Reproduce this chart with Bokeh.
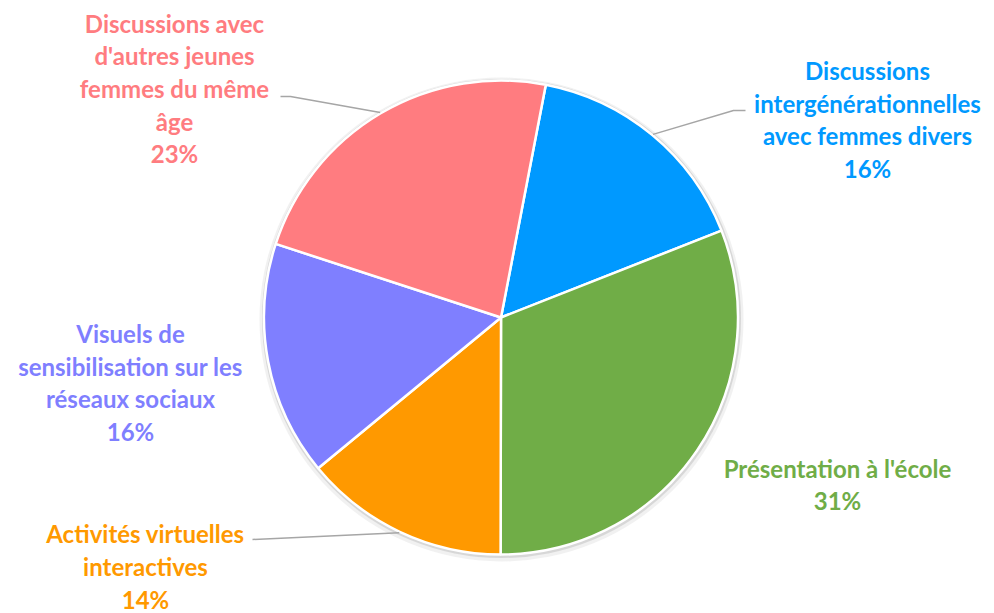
import math
from bokeh.plotting import figure
from bokeh.models import Range1d, ColumnDataSource
from bokeh.core.properties import value
from bokeh.embed import file_html
from bokeh.resources import INLINE

# ---- data ----
label_lines = [
    ["Discussions", "intergénérationnelles", "avec femmes divers"],
    ["Présentation à l'école"],
    ["Activités virtuelles", "interactives"],
    ["Visuels de", "sensibilisation sur les", "réseaux sociaux"],
    ["Discussions avec", "d'autres jeunes", "femmes du même", "âge"],
]
shares = [16, 31, 14, 16, 23]
colors = ["#0099FF", "#70AD47", "#FF9900", "#7F7FFF", "#FF7C80"]

# ---- layout (screen pixel coordinates, y downward) ----
W, H = 994, 613
CX, CY, R = 500.5, 317.0, 237.0
START_DEG = 10.9  # clockwise from 12 o'clock
label_pos = [(867, 119), (837, 484), (145, 566), (130, 382), (174, 88)]
leader_elbows = {0: [(733, 110), (745, 110)], 2: [(252, 539)], 4: [(290, 96), (280, 96)]}

FONT = "Lato"
FS = 24
LINE_H = 32.5 / (1.2 * FS)

def to_data(x, y):
    return x, -y

p = figure(width=W, height=H, output_backend="svg", toolbar_location=None,
           x_range=Range1d(0, W), y_range=Range1d(-H, 0),
           min_border=0)
p.axis.visible = False
p.grid.visible = False
p.outline_line_color = None
p.background_fill_color = "white"
p.border_fill_color = "white"

total = float(sum(shares))
starts, ends, mids = [], [], []
acc = START_DEG
for s in shares:
    d = s / total * 360.0
    starts.append(acc)
    ends.append(acc + d)
    mids.append(acc + d / 2)
    acc += d

def math_rad(deg_cw):
    return math.radians(90.0 - deg_cw)

cx, cy = to_data(CX, CY)
# soft shadow rings
p.circle(x=[cx + 0.5], y=[cy - 2], radius=R + 5, fill_color="#C8C8C8", fill_alpha=0.25, line_color=None)
p.circle(x=[cx + 0.5], y=[cy - 1], radius=R + 2.5, fill_color="#B8B8B8", fill_alpha=0.45, line_color=None)

src = ColumnDataSource(dict(
    x=[cx] * len(shares), y=[cy] * len(shares),
    start=[math_rad(a) for a in starts], end=[math_rad(a) for a in ends],
    color=colors,
))
p.wedge(x="x", y="y", radius=R, start_angle="start", end_angle="end", direction="clock",
        fill_color="color", line_color="white", line_width=2.5, source=src)

# leader lines
for i, pts in leader_elbows.items():
    a = math.radians(mids[i])
    sx = CX + (R + 1) * math.sin(a)
    sy = CY - (R + 1) * math.cos(a)
    xs = [sx] + [q[0] for q in pts]
    ys = [-sy] + [-q[1] for q in pts]
    p.line(xs, ys, line_color="#A6A6A6", line_width=1.5)

# labels
for i, lines in enumerate(label_lines):
    txt = "\n".join(lines + [f"{shares[i]}%"])
    lx, ly = to_data(*label_pos[i])
    p.text(x=[lx], y=[ly], text=[txt], text_align="center", text_baseline="middle",
           text_font=value(FONT), text_font_style="bold", text_font_size=f"{FS}px",
           text_line_height=LINE_H, text_color=colors[i])

open("out.html", "w").write(file_html(p, INLINE))
